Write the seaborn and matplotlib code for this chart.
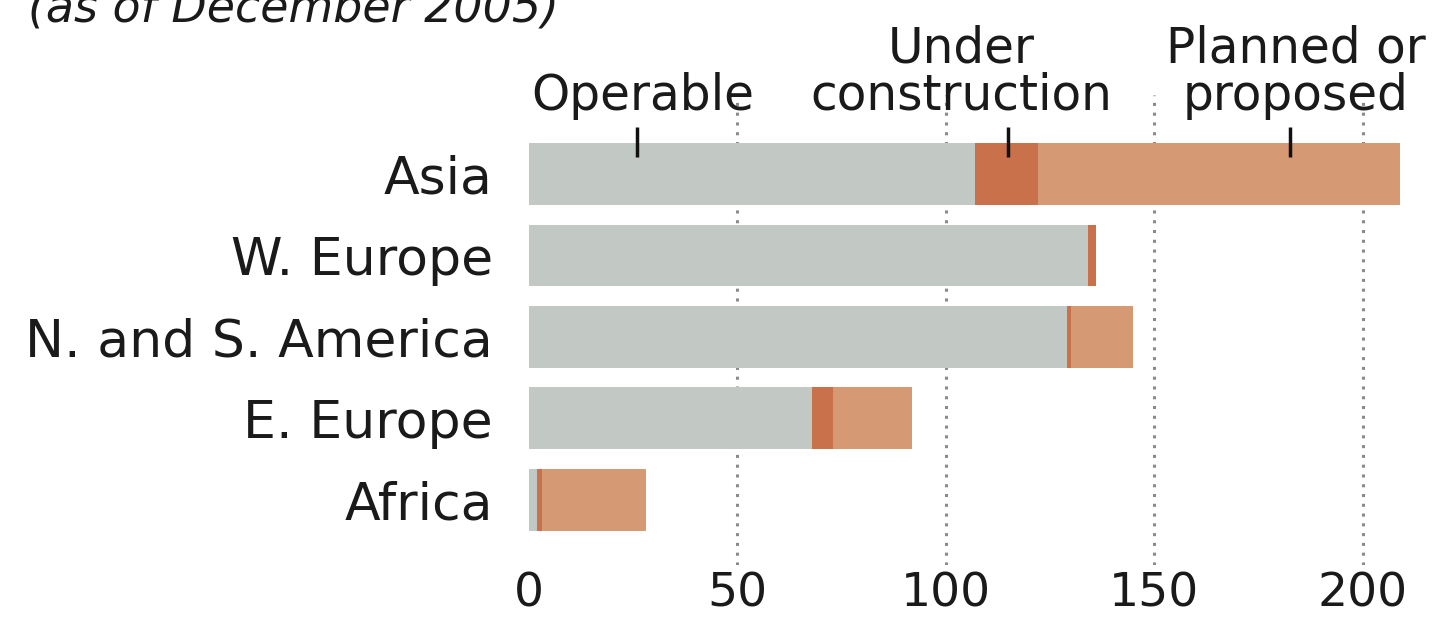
import matplotlib
matplotlib.use("Agg")
import matplotlib.pyplot as plt
import seaborn as sns
import pandas as pd

# data (number of reactors, as of December 2005)
regions = ["Asia", "W. Europe", "N. and S. America", "E. Europe", "Africa"]
operable = [107, 134, 129, 68, 2]
under_construction = [15, 2, 1, 5, 1]
planned = [87, 0, 15, 19, 25]
x_ticks = [0, 50, 100, 150, 200]

df = pd.DataFrame({
    "region": regions,
    "operable": operable,
    "under": under_construction,
    "planned": planned,
})
df["upto_under"] = df["operable"] + df["under"]
df["total"] = df["upto_under"] + df["planned"]

GREY = "#c2c9c5"
DARK_ORANGE = "#c8714a"
ORANGE = "#d59a74"
TEXT = "#1a1a1a"

sns.set_style("white")
plt.rcParams["font.family"] = ["DejaVu Sans"]

fig = plt.figure(figsize=(14.44, 6.2), dpi=100)
ax = fig.add_axes([529 / 1444, 55 / 620, 917 / 1444, 470 / 620])

# dotted gridlines behind bars
for v in x_ticks[1:]:
    ax.axvline(v, color="#8a8a8a", lw=2.2, linestyle=(0, (1, 2.2)), zorder=0)

# layered bars: total first, then partial sums on top
for col, c in [("total", ORANGE), ("upto_under", DARK_ORANGE), ("operable", GREY)]:
    sns.barplot(data=df, x=col, y="region", color=c, saturation=1,
                width=0.76, linewidth=0, ax=ax, zorder=2)

ax.set_xlim(0, 220)
ax.set_ylim(4.8, -0.97)
ax.set_xticks(x_ticks)
ax.set_xticklabels([str(t) for t in x_ticks], fontsize=34, color=TEXT)
ax.tick_params(axis="x", length=0, pad=5)
ax.tick_params(axis="y", length=0, pad=26, labelsize=37.5, labelcolor=TEXT)
ax.set_xlabel("")
ax.set_ylabel("")
sns.despine(ax=ax, left=True, bottom=True)

# segment labels with pointer ticks
labels = [("Operable", 27.3, 26.0),
          ("Under\nconstruction", 103.8, 114.9),
          ("Planned or\nproposed", 184.0, 182.6)]
for txt, tx, px in labels:
    ax.text(tx, -0.79, txt, ha="center", va="baseline", fontsize=35,
            color=TEXT, linespacing=0.98, clip_on=False)
    ax.plot([px, px], [-0.58, -0.21], color="#111111", lw=2.5,
            solid_capstyle="butt", zorder=3, clip_on=False)

# subtitle, partly cropped at the top edge as in the reference
fig.text(28 / 1444, 1 - 22 / 620, "(as of December 2005)", fontsize=33,
         style="italic", color=TEXT, va="baseline", ha="left")

fig.savefig("out.png", dpi=100)
plt.close(fig)
